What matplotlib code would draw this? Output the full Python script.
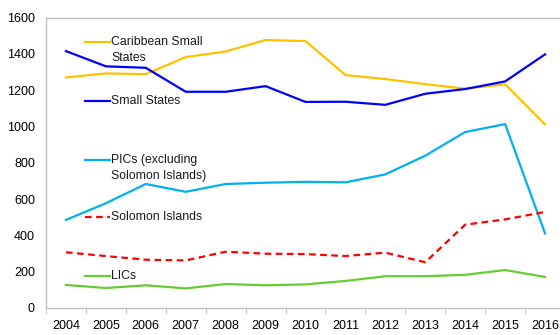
import numpy as np
import matplotlib
matplotlib.use("Agg")
import matplotlib.pyplot as plt

plt.rcParams['font.family'] = ['Liberation Sans', 'DejaVu Sans']

years = ['2004', '2005', '2006', '2007', '2008', '2009', '2010',
         '2011', '2012', '2013', '2014', '2015', '2016']

caribbean = [1270, 1292, 1288, 1382, 1413, 1476, 1470, 1283, 1261, 1233, 1208, 1232, 1011]
small_states = [1415, 1331, 1323, 1191, 1191, 1222, 1135, 1136, 1119, 1180, 1206, 1248, 1397]
pics = [485, 577, 683, 640, 683, 690, 695, 692, 736, 839, 969, 1013, 411]
solomon = [307, 286, 266, 262, 310, 299, 297, 286, 305, 252, 459, 488, 529]
lics = [127, 110, 125, 108, 132, 125, 130, 149, 175, 175, 183, 209, 171]

labels = ['Caribbean Small\nStates', 'Small States',
          'PICs (excluding\nSolomon Islands)', 'Solomon Islands', 'LICs']
colors = ['#FFC000', '#0000FF', '#00B0F0', '#FF0000', '#66CC33']
styles = ['-', '-', '-', '--', '-']
series = [caribbean, small_states, pics, solomon, lics]

fig = plt.figure(figsize=(5.6, 3.35), dpi=100)
# right edge of plot area runs past the figure border, as in the reference
ax = fig.add_axes([46 / 560, 1 - 308 / 335, (565 - 46) / 560, 290.5 / 335])

x = np.arange(len(years))
for vals, c, ls in zip(series, colors, styles):
    ax.plot(x, vals, color=c, lw=1.6, ls=ls, dashes=(3, 2) if ls == '--' else (None, None))

ax.set_xlim(-0.5, len(years) - 0.5)
ax.set_ylim(0, 1600)
ax.set_yticks(range(0, 1601, 200))
ax.set_xticks(x)
ax.set_xticklabels(years)
ax.set_xticks(np.arange(-0.5, len(years), 1), minor=True)
ax.tick_params(axis='x', which='major', length=0, pad=8.5, labelsize=9)
ax.tick_params(axis='x', which='minor', length=4, color='#BFBFBF')
ax.tick_params(axis='y', length=0, pad=8, labelsize=9)
for s in ['left', 'top', 'bottom', 'right']:
    ax.spines[s].set_color('#BFBFBF')
    ax.spines[s].set_linewidth(1)

# inline legend, drawn in axes fraction coordinates
leg_y = [1465, 1140, 815, 501, 176]
for lab, c, ls, yv in zip(labels, colors, styles, leg_y):
    yf = yv / 1600
    ax.plot([39 / 519, 64 / 519], [yf, yf], transform=ax.transAxes, color=c, lw=1.6,
            ls=ls, dashes=(3, 2) if ls == '--' else (None, None), clip_on=False)
    ax.text(65 / 519, yf, lab, transform=ax.transAxes, fontsize=8.8,
            va='top' if '\n' in lab else 'center', linespacing=1.45,
            color='#1a1a1a')

# nudge two-line labels so the handle sits on the first line
for t in ax.texts:
    if '\n' in t.get_text():
        t.set_y(t.get_position()[1] + 0.022)

fig.savefig('out.png', dpi=100)
